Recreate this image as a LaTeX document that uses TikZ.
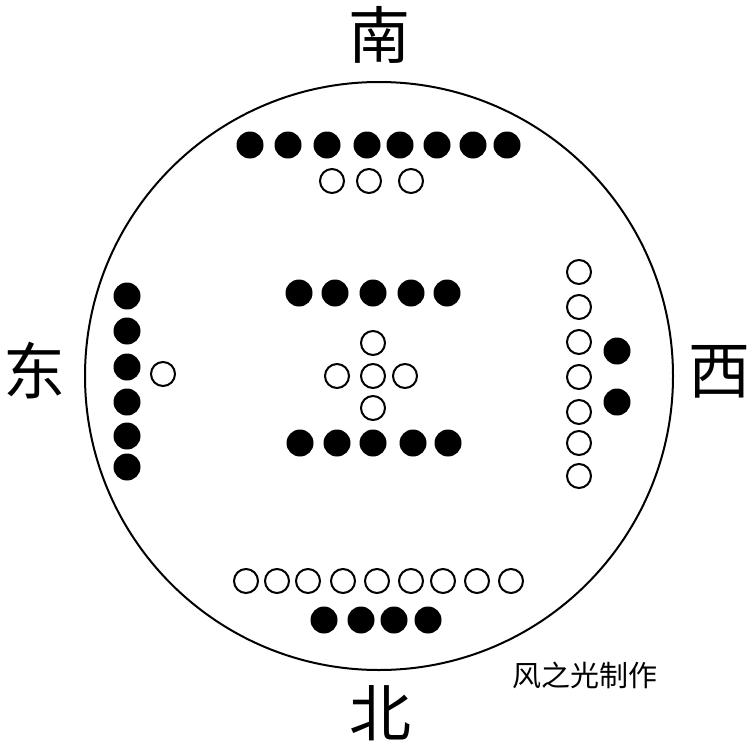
\documentclass[tikz,border=0pt]{standalone}
\usepackage{fontspec}
\newfontfamily\cjk{Noto Sans CJK SC}
\usetikzlibrary{positioning}

\begin{document}
\begin{tikzpicture}[
      x=1pt, y=-1pt,
      dot-black/.style={circle, fill=black, inner sep=0pt, minimum size=27pt},
      dot-white/.style={circle, draw=black, line width=2pt, fill=white, inner sep=0pt, minimum size=24pt},
      dir-label/.style={font=\cjk\fontsize{62}{62}\selectfont, inner sep=0pt},
      sign-label/.style={font=\cjk\fontsize{29}{29}\selectfont, inner sep=0pt}
    ]
      \useasboundingbox (0,0) rectangle (753,750);
      \node[circle, draw=black, line width=2pt, minimum size=588pt, inner sep=0pt] (disc) at (379,376) {};
      % directions
      \node[dir-label] (south) at (379,35) {南};
      \node[dir-label] (north) at (380,713) {北};
      \node[dir-label] (east) at (35,371) {东};
      \node[dir-label] (west) at (719,372) {西};
      \node[sign-label] (sign) at (585,675) {风之光制作};
      % south group
      \foreach \x [count=\i] in {250,288,327,367,400,437,473,507}
        \node[dot-black] (s-b\i) at (\x,145) {};
      \foreach \x [count=\i] in {332,369,411}
        \node[dot-white] (s-w\i) at (\x,181) {};
      % centre group
      \foreach \x [count=\i] in {299,335,373,411,447}
        \node[dot-black] (c-t\i) at (\x,293) {};
      \foreach \x [count=\i] in {300,337,373,413,448}
        \node[dot-black] (c-b\i) at (\x,443) {};
      \node[dot-white] (c-w1) at (373,343) {};
      \node[dot-white] (c-w2) at (337,376) {};
      \node[dot-white] (c-w3) at (373,376) {};
      \node[dot-white] (c-w4) at (405,376) {};
      \node[dot-white] (c-w5) at (373,408) {};
      % east group
      \foreach \y [count=\i] in {296,331,367,402,436,467}
        \node[dot-black] (e-b\i) at (127,\y) {};
      \node[dot-white] (e-w1) at (163,374) {};
      % west group
      \foreach \y [count=\i] in {272,307,342,377,412,443,476}
        \node[dot-white] (w-w\i) at (579,\y) {};
      \node[dot-black] (w-b1) at (617,351) {};
      \node[dot-black] (w-b2) at (617,402) {};
      % north group
      \foreach \x [count=\i] in {246,277,308,343,377,411,443,477,511}
        \node[dot-white] (n-w\i) at (\x,581) {};
      \foreach \x [count=\i] in {324,361,394,428}
        \node[dot-black] (n-b\i) at (\x,620) {};
    \end{tikzpicture}
\end{document}
